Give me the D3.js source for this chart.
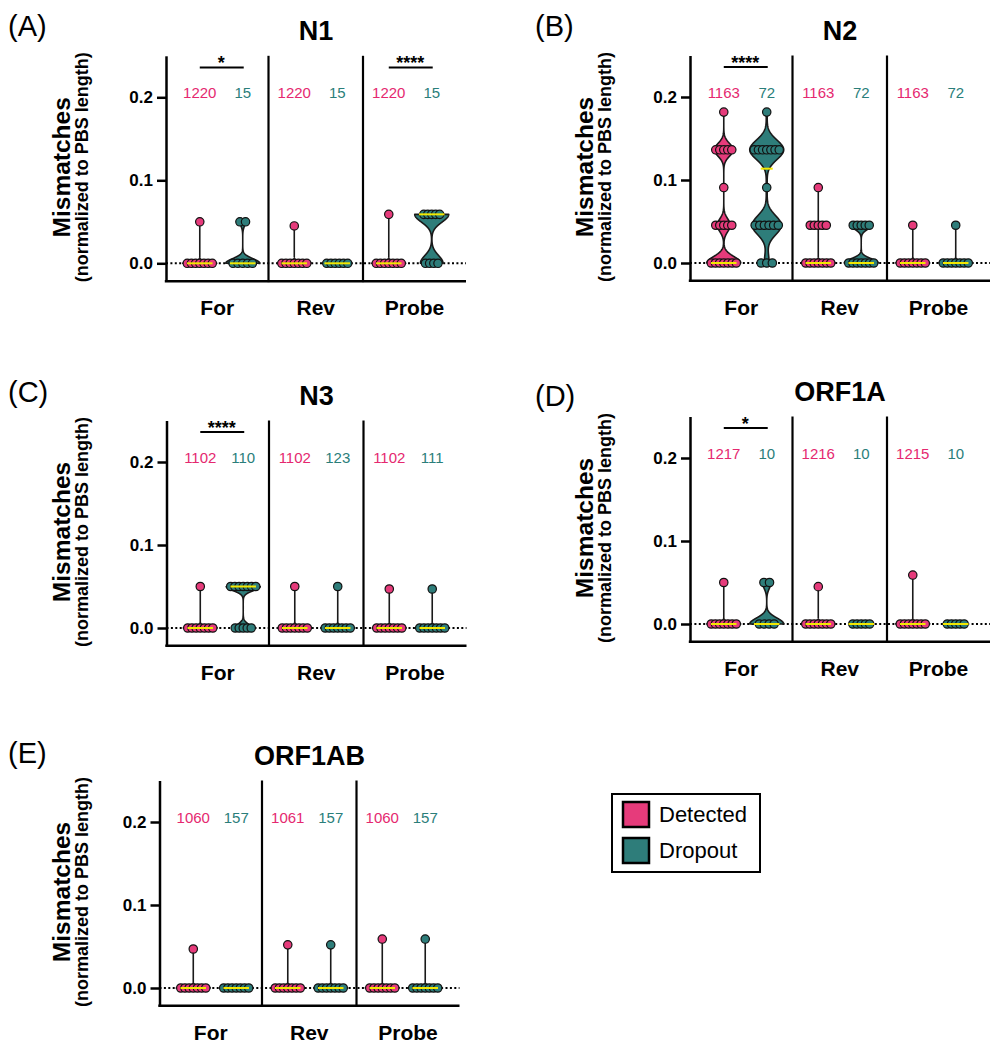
<!DOCTYPE html>
<html><head><meta charset="utf-8">
<script src="https://cdn.jsdelivr.net/npm/d3@7"></script>
<style>
body{margin:0;background:#fff}
svg{display:block}
text{font-family:"Liberation Sans",Arial,Helvetica,sans-serif}
</style>
</head><body>
<svg id="chart" width="1002" height="1050"></svg>
<script>
// ---------------- DATA ----------------
const panelTags   = ["(A)","(B)","(C)","(D)","(E)"];
const panelTitles = ["N1","N2","N3","ORF1A","ORF1AB"];
const primers = ["For","Rev","Probe"];
const groups  = ["Detected","Dropout"];
const yTicks  = [0.0, 0.1, 0.2];

// sequence counts shown above each violin [Detected, Dropout] per primer
const nLabels = [
  [[1220,15],[1220,15],[1220,15]],
  [[1163,72],[1163,72],[1163,72]],
  [[1102,110],[1102,123],[1102,111]],
  [[1217,10],[1216,10],[1215,10]],
  [[1060,157],[1061,157],[1060,157]]
];
// significance marks per primer
const sigLabels = [
  ["*","","****"],
  ["****","",""],
  ["****","",""],
  ["*","",""],
  ["","",""]
];

// distributions: per primer -> [Detected, Dropout] -> list of [mismatch value, count]
const n1Dist = [
  [ [[0,1219],[0.050,1]], [[0,13],[0.050,2]] ],
  [ [[0,1219],[0.045,1]], [[0,15]] ],
  [ [[0,1219],[0.059,1]], [[0,6],[0.059,9]] ]
];
const n2Dist = [
  [ [[0,598],[0.0455,230],[0.0909,1],[0.1364,333],[0.1818,1]], [[0,5],[0.0455,30],[0.0909,1],[0.1364,35],[0.1818,1]] ],
  [ [[0,1150],[0.0455,12],[0.0909,1]], [[0,45],[0.0455,27]] ],
  [ [[0,1162],[0.0455,1]], [[0,71],[0.0455,1]] ]
];
const n3Dist = [
  [ [[0,1101],[0.050,1]], [[0,35],[0.050,75]] ],
  [ [[0,1101],[0.050,1]], [[0,122],[0.050,1]] ],
  [ [[0,1101],[0.047,1]], [[0,110],[0.047,1]] ]
];
const orf1aDist = [
  [ [[0,1216],[0.050,1]], [[0,8],[0.050,2]] ],
  [ [[0,1215],[0.045,1]], [[0,10]] ],
  [ [[0,1214],[0.059,1]], [[0,10]] ]
];
const orf1abDist = [
  [ [[0,1059],[0.047,1]], [[0,157]] ],
  [ [[0,1060],[0.052,1]], [[0,156],[0.052,1]] ],
  [ [[0,1059],[0.059,1]], [[0,156],[0.059,1]] ]
];
const distributions = [n1Dist, n2Dist, n3Dist, orf1aDist, orf1abDist];

// ---------------- STYLE / LAYOUT ----------------
const fillColors  = ["#E63B7B","#2E7D7A"];
const labelColors = ["#E5286F","#2A7E7A"];
const layout = [
  {ax:166,   y0:263.3, tagX:8,   tagY:28,  yt:70},
  {ax:690,   y0:263,   tagX:535, tagY:28,  yt:593},
  {ax:166.5, y0:628,   tagX:8,   tagY:394, yt:70},
  {ax:690,   y0:624,   tagX:535, tagY:398, yt:593},
  {ax:159.5, y0:988,   tagX:8,   tagY:755, yt:70}
];
const PX_PER_UNIT = 830, PLOT_W = 300, MAX_HW = 17, DOT_R = 4.2;

const svg = d3.select("#chart");

function expand(dist){
  const vals=[];
  dist.forEach(([v,c])=>{for(let i=0;i<c;i++) vals.push(v);});
  return vals.sort(d3.ascending);
}
function bandwidth(vals){
  const n=vals.length;
  const sd=d3.deviation(vals)||0;
  const iqr=(d3.quantile(vals,0.75)-d3.quantile(vals,0.25))/1.34;
  const s = iqr>0 ? Math.min(sd,iqr) : sd;
  return Math.max(0.002, Math.min(0.02, 0.54*s*Math.pow(n,-0.2)));
}

distributions.forEach((dist, pi) => {
  const L = layout[pi];
  const g = svg.append("g");
  const y = d3.scaleLinear().domain([-0.0215, 0.25])
      .range([L.y0 + 0.0215*PX_PER_UNIT, L.y0 - 0.25*PX_PER_UNIT]);
  const x = d3.scaleBand().domain(primers).range([L.ax+8, L.ax+291.5]);
  const gx = d3.scalePoint().domain(groups).range([0, x.bandwidth()]).padding(0.6);
  const xEnd = L.ax + PLOT_W;
  const bounds = [L.ax, x("Rev"), x("Probe"), xEnd];

  // tag and title
  g.append("text").attr("x",L.tagX).attr("y",L.tagY+7.5)
    .attr("font-size",29).text(panelTags[pi]);
  g.append("text").attr("x",L.ax+150).attr("y",L.y0-223)
    .attr("text-anchor","middle").attr("font-size",27).attr("font-weight","bold")
    .text(panelTitles[pi]);

  // y axis title
  const cy = L.y0 - 96;
  g.append("text").attr("transform",`translate(${L.yt},${cy}) rotate(-90)`)
    .attr("text-anchor","middle").attr("font-size",24.5).attr("font-weight","bold")
    .text("Mismatches");
  g.append("text").attr("transform",`translate(${L.yt+18},${cy}) rotate(-90)`)
    .attr("text-anchor","middle").attr("font-size",18).attr("font-weight","bold")
    .text("(normalized to PBS length)");

  // dotted zero line
  g.append("line").attr("x1",L.ax).attr("x2",xEnd).attr("y1",y(0)).attr("y2",y(0))
    .attr("stroke","#000").attr("stroke-width",2).attr("stroke-dasharray","2,2.4");

  // y axis
  const yAxis = d3.axisLeft(y).tickValues(yTicks).tickFormat(d3.format(".1f"))
    .tickSize(9).tickSizeOuter(0).tickPadding(4);
  const ag = g.append("g").attr("transform",`translate(${L.ax},0)`).call(yAxis);
  ag.select(".domain").attr("stroke","#000").attr("stroke-width",2.5);
  ag.selectAll(".tick line").attr("stroke","#000").attr("stroke-width",2.5);
  ag.selectAll(".tick text").attr("font-size",17).attr("font-weight","bold")
    .attr("fill","#000").style("font-family",'"Liberation Sans",Arial,sans-serif');

  // x axis line
  g.append("line").attr("x1",L.ax-1.2).attr("x2",xEnd).attr("y1",y.range()[0]).attr("y2",y.range()[0])
    .attr("stroke","#000").attr("stroke-width",2.5);
  // dividers
  [x("Rev"), x("Probe")].forEach(xd=>{
    g.append("line").attr("x1",xd).attr("x2",xd).attr("y1",y.range()[1]).attr("y2",y.range()[0]+1)
      .attr("stroke","#000").attr("stroke-width",2.2);
  });
  // category labels
  primers.forEach((p,i)=>{
    g.append("text").attr("x",(bounds[i]+bounds[i+1])/2).attr("y",L.y0+51.5)
      .attr("text-anchor","middle").attr("font-size",21).attr("font-weight","bold").text(p);
  });

  primers.forEach((p,i)=>{
    // n labels
    groups.forEach((grp,gi)=>{
      g.append("text").attr("x",x(p)+gx(grp)).attr("y",y(0.2)+1)
        .attr("text-anchor","middle").attr("font-size",15).attr("fill",labelColors[gi])
        .text(nLabels[pi][i][gi]);
    });
    // significance
    const s = sigLabels[pi][i];
    if (s) {
      const x1 = x(p)+gx("Detected"), x2 = x(p)+gx("Dropout"), sy = y(0.236);
      g.append("line").attr("x1",x1).attr("x2",x2+1).attr("y1",sy).attr("y2",sy)
        .attr("stroke","#000").attr("stroke-width",2);
      g.append("text").attr("x",(x1+x2)/2).attr("y",sy+2).attr("text-anchor","middle")
        .attr("font-size",18).attr("font-weight","bold").text(s);
    }
    // violins
    groups.forEach((grp,gi)=>{
      const d = dist[i][gi];
      const cx = x(p)+gx(grp);
      const vals = expand(d);
      const vmin = d3.min(vals), vmax = d3.max(vals);
      const bw = bandwidth(vals);
      const dens = v => d3.sum(d, ([lv,c]) => c*Math.exp(-0.5*Math.pow((v-lv)/bw,2)));
      let hw = () => MAX_HW;
      if (vmax > vmin) {
        const samples = Array.from(new Set(d3.range(0,241).map(k=>vmin+(vmax-vmin)*k/240)
          .concat(d.map(e=>e[0])))).sort(d3.ascending);
        const maxD = d3.max(samples, dens);
        hw = v => dens(v)/maxD*MAX_HW;
        const pts = samples.map(v=>({v, w:hw(v)}));
        const area = d3.area().x0(q=>cx-q.w).x1(q=>cx+q.w).y(q=>y(q.v));
        g.append("path").attr("d",area(pts)).attr("fill",fillColors[gi])
          .attr("stroke","#1a1a1a").attr("stroke-width",1.6).attr("stroke-linejoin","round");
      }
      // dots
      d.forEach(([v,c])=>{
        const hv = hw(v);
        const spread = c<=1 ? 0 : Math.min(12.5, 2.8*Math.sqrt(c-1), Math.max(hv-3, 8));
        const k = c<=1 ? 1 : Math.min(c, Math.max(2, Math.round(2*spread/4.5)+1));
        d3.range(k).forEach(j=>{
          const px = k===1 ? cx : cx - spread + 2*spread*j/(k-1);
          g.append("circle").attr("cx",px).attr("cy",y(v)).attr("r",DOT_R)
            .attr("fill",fillColors[gi]).attr("stroke","#111").attr("stroke-width",1.2);
        });
      });
      // median line
      const med = d3.median(vals);
      const half = Math.max(6, 0.75*hw(med));
      g.append("line").attr("x1",cx-half).attr("x2",cx+half).attr("y1",y(med)).attr("y2",y(med))
        .attr("stroke","#F2E800").attr("stroke-width",2);
    });
  });
});

// legend
const lg = svg.append("g");
lg.append("rect").attr("x",612).attr("y",794).attr("width",148).attr("height",78)
  .attr("fill","#fff").attr("stroke","#000").attr("stroke-width",2);
groups.forEach((grp,gi)=>{
  const yy = 802 + gi*36;
  lg.append("rect").attr("x",623).attr("y",yy).attr("width",26).attr("height",25)
    .attr("fill",fillColors[gi]).attr("stroke","#000").attr("stroke-width",2.5);
  lg.append("text").attr("x",659).attr("y",yy+20).attr("font-size",22).text(grp);
});
</script>
</body></html>
